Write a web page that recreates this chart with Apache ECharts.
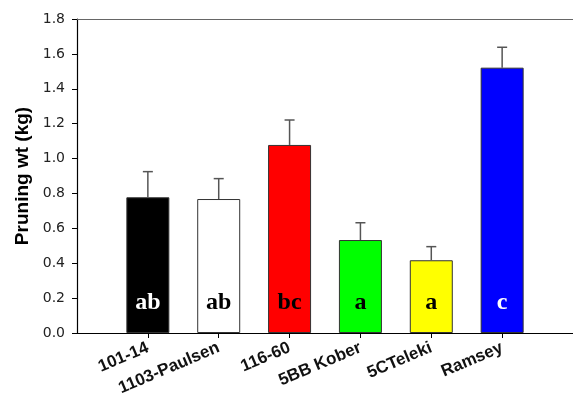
<!DOCTYPE html>
<html>
<head>
<meta charset="utf-8">
<script src="https://cdn.jsdelivr.net/npm/echarts@6/dist/echarts.min.js"></script>
<style>html,body{margin:0;padding:0;background:#fff}#c{width:573px;height:394px}</style>
</head>
<body>
<div id="c"></div>
<script>
const categories = ['101-14', '1103-Paulsen', '116-60', '5BB Kober', '5CTeleki', 'Ramsey'];
const means = [0.778, 0.768, 1.078, 0.533, 0.417, 1.521];
const errorTops = [0.925, 0.885, 1.221, 0.632, 0.495, 1.638];
const letters = ['ab', 'ab', 'bc', 'a', 'a', 'c'];
const barColors = ['#000000', '#ffffff', '#ff0000', '#00ff00', '#ffff00', '#0000ff'];
const letterColors = ['#ffffff', '#000000', '#000000', '#000000', '#000000', '#ffffff'];
const yTicks = [0, 0.2, 0.4, 0.6, 0.8, 1.0, 1.2, 1.4, 1.6, 1.8];

const axisCats = [''].concat(categories, ['']);

const chart = echarts.init(document.getElementById('c'));
chart.setOption({
  animation: false,
  grid: { left: 77, right: 0, top: 19, bottom: 61, containLabel: false, outerBoundsMode: 'none' },
  xAxis: [{
    type: 'category',
    data: axisCats,
    boundaryGap: false,
    axisLine: { lineStyle: { color: '#000', width: 1.2 } },
    axisTick: { show: true, length: 5, inside: false, interval: (i) => i > 0 && i < axisCats.length - 1, lineStyle: { color: '#000' } },
    axisLabel: { rotate: 23, interval: 0, margin: 14, fontFamily: 'Liberation Sans, Arial', fontWeight: 'bold', fontSize: 17, color: '#111' },
    splitLine: { show: false }
  }, {
    type: 'category',
    data: axisCats,
    boundaryGap: false,
    position: 'top',
    axisLine: { lineStyle: { color: '#666', width: 1.2 } },
    axisTick: { show: false },
    axisLabel: { show: false }
  }],
  yAxis: {
    type: 'value',
    min: yTicks[0], max: yTicks[yTicks.length - 1], interval: 0.2,
    name: 'Pruning wt (kg)',
    nameLocation: 'middle',
    nameRotate: 90,
    nameGap: 44,
    nameTextStyle: { fontFamily: 'Liberation Sans, Arial', fontWeight: 'bold', fontSize: 19, color: '#000' },
    axisLine: { show: true, lineStyle: { color: '#000', width: 1.2 } },
    axisTick: { show: true, length: 5, lineStyle: { color: '#000' } },
    axisLabel: { margin: 12, fontFamily: 'DejaVu Sans, Arial', fontSize: 14, color: '#222', formatter: (v) => v.toFixed(1) },
    splitLine: { show: false }
  },
  series: [{
    type: 'bar',
    barWidth: 43,
    data: means.map((v, i) => ({
      value: [i + 1, v],
      itemStyle: { color: barColors[i], borderColor: '#333', borderWidth: 1 },
      label: { show: true, formatter: letters[i], color: letterColors[i] }
    })),
    label: {
      position: 'insideBottom',
      distance: 18,
      fontFamily: 'Liberation Serif, Times New Roman',
      fontWeight: 'bold',
      fontSize: 24
    },
    z: 2
  }, {
    type: 'custom',
    data: means.map((v, i) => [i + 1, v, errorTops[i]]),
    renderItem: (params, api) => {
      const lo = api.coord([api.value(0), api.value(1)]);
      const hi = api.coord([api.value(0), api.value(2)]);
      const half = 5;
      const style = { stroke: '#555', lineWidth: 1.5 };
      return {
        type: 'group',
        children: [
          { type: 'line', shape: { x1: lo[0], y1: lo[1], x2: hi[0], y2: hi[1] }, style },
          { type: 'line', shape: { x1: hi[0] - half, y1: hi[1], x2: hi[0] + half, y2: hi[1] }, style }
        ]
      };
    },
    z: 3
  }]
});
</script>
</body>
</html>
